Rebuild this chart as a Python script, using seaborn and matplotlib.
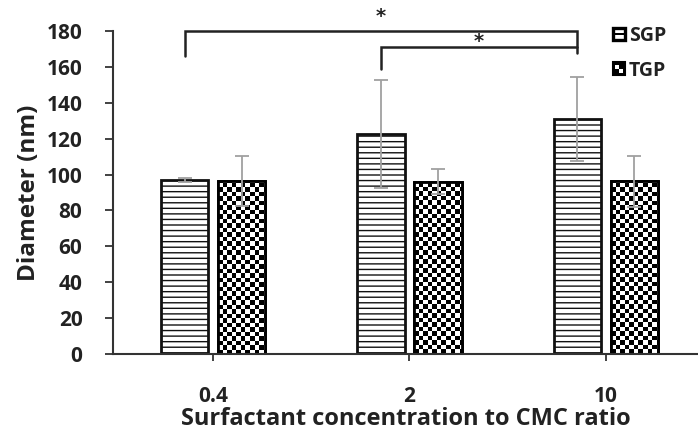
import numpy as np
import pandas as pd
import matplotlib
matplotlib.use("Agg")
import matplotlib.pyplot as plt
import seaborn as sns
from matplotlib.patches import Rectangle
from matplotlib.legend_handler import HandlerBase

# ---------------- data ----------------
categories = ["0.4", "2", "10"]
series = ["SGP", "TGP"]
sgp_mean = [97.0, 122.6, 131.0]
tgp_mean = [96.4, 96.0, 96.2]
sgp_err = [1.3, 30.0, 23.2]
tgp_err = [14.2, 7.0, 14.4]
y_ticks = [0, 20, 40, 60, 80, 100, 120, 140, 160, 180]
x_label = "Surfactant concentration to CMC ratio"
y_label = "Diameter (nm)"

df = pd.DataFrame({
    "ratio": categories * 2,
    "group": ["SGP"] * 3 + ["TGP"] * 3,
    "diameter": sgp_mean + tgp_mean,
})
errs = {"SGP": sgp_err, "TGP": tgp_err}

sns.set_theme(style="white")
plt.rcParams["font.family"] = ["Open Sans", "DejaVu Sans"]
plt.rcParams["font.weight"] = "bold"
plt.rcParams["hatch.linewidth"] = 1.0

fig = plt.figure(figsize=(6.98, 4.34), dpi=100)
ax = fig.add_axes([113 / 698, 1 - 354 / 434, 1 - 113 / 698, (354 - 31) / 434])

sns.barplot(data=df, x="ratio", y="diameter", hue="group", order=categories,
            hue_order=series, errorbar=None, width=0.58, gap=0.17,
            palette=["white", "white"], edgecolor="black", linewidth=2,
            legend=False, ax=ax)

xlim = (-0.51, 2.47)
ylim = (0, 180)

bars = [p for p in ax.patches if isinstance(p, Rectangle)]
n = len(categories)
sgp_bars = bars[:n]
tgp_bars = bars[n:2 * n]

for p in sgp_bars:
    p.set_hatch("---")
    p.set_edgecolor("#111111")

# checkerboard fill for TGP bars
cell_x = 4.5 / 196.0
cell_y = 4.5 / (323 / 180)
for p in tgp_bars:
    x0, w = p.get_x(), p.get_width()
    y0, h = p.get_y(), p.get_height()
    nx = int(np.ceil(w / cell_x))
    ny = int(np.ceil(h / cell_y))
    ii, jj = np.indices((ny, nx))
    board = ((ii + jj) % 2).astype(float)
    im = ax.imshow(board, cmap="gray", vmin=0, vmax=1, interpolation="nearest",
                   extent=(x0, x0 + nx * cell_x, y0, y0 + ny * cell_y),
                   origin="lower", aspect="auto", zorder=p.get_zorder() + 0.1)
    im.set_clip_path(p)
    edge = Rectangle((x0, y0), w, h, facecolor="none", edgecolor="black",
                     linewidth=2, zorder=p.get_zorder() + 0.2)
    ax.add_patch(edge)

# error bars
for s, blist in (("SGP", sgp_bars), ("TGP", tgp_bars)):
    for p, e in zip(blist, errs[s]):
        xc = p.get_x() + p.get_width() / 2
        ax.errorbar(xc, p.get_height(), yerr=e, fmt="none", ecolor="#a0a0a0",
                    elinewidth=1.3, capsize=5, capthick=1.3, zorder=5)

ax.set_aspect("auto")
ax.set_xlim(*xlim)
ax.set_ylim(*ylim)
ax.set_yticks(y_ticks)

# significance brackets
xs0 = sgp_bars[0].get_x() + sgp_bars[0].get_width() / 2
xs1 = sgp_bars[1].get_x() + sgp_bars[1].get_width() / 2
xs2 = sgp_bars[2].get_x() + sgp_bars[2].get_width() / 2
kw = dict(color="#222222", lw=1.8, clip_on=False, zorder=6, solid_joinstyle="miter")
ax.plot([xs0, xs0, xs2, xs2], [166, 180, 180, 168], **kw)
ax.plot([xs1, xs1, xs2], [159, 171, 171], **kw)
star_kw = dict(ha="center", va="center", fontsize=14, fontweight="bold",
               color="#222222", clip_on=False, family=["DejaVu Sans"])
ax.text((xs0 + xs2) / 2, 188, "*", **star_kw)
ax.text((xs1 + xs2) / 2, 174, "*", **star_kw)

# spines / ticks
sns.despine(ax=ax)
for sp in ("left", "bottom"):
    ax.spines[sp].set_linewidth(1.5)
    ax.spines[sp].set_color("#333333")
ax.tick_params(axis="y", direction="out", length=6, width=1.3, color="#333333",
               pad=16, labelsize=15, labelcolor="#222222", left=True)
ax.tick_params(axis="x", direction="out", length=5, width=1.3, color="#333333",
               pad=18, labelsize=15, labelcolor="#222222", bottom=True)
for lab in ax.get_xticklabels() + ax.get_yticklabels():
    lab.set_fontweight("bold")
ax.set_xlabel(x_label, fontsize=17, fontweight="bold", color="#222222", labelpad=0)
ax.set_ylabel(y_label, fontsize=17.5, fontweight="bold", color="#222222", labelpad=4)


class SquareHandler(HandlerBase):
    def __init__(self, kind):
        super().__init__()
        self.kind = kind

    def create_artists(self, legend, orig_handle, xdescent, ydescent, width,
                       height, fontsize, trans):
        s = height
        x0 = -xdescent + (width - s) / 2
        y0 = -ydescent
        arts = []
        if self.kind == "SGP":
            arts.append(Rectangle((x0, y0), s, s, facecolor="white",
                                  edgecolor="black", linewidth=2.4, transform=trans))
            arts.append(Rectangle((x0, y0 + s * 0.42), s, s * 0.16,
                                  facecolor="black", edgecolor="none", transform=trans))
        else:
            arts.append(Rectangle((x0, y0), s, s, facecolor="black",
                                  edgecolor="black", linewidth=1.5, transform=trans))
            arts.append(Rectangle((x0 + s * 0.5, y0 + s * 0.2), s * 0.3, s * 0.3,
                                  facecolor="white", edgecolor="none", transform=trans))
            arts.append(Rectangle((x0 + s * 0.2, y0 + s * 0.5), s * 0.3, s * 0.3,
                                  facecolor="white", edgecolor="none", transform=trans))
        return arts


h1 = Rectangle((0, 0), 1, 1)
h2 = Rectangle((0, 0), 1, 1)
leg = fig.legend([h1, h2], series, loc="upper left",
                 bbox_to_anchor=(613 / 698, 1 - 26 / 434), bbox_transform=fig.transFigure,
                 frameon=False, fontsize=14, handlelength=0.62, handleheight=0.62,
                 handletextpad=0.2, labelspacing=0.75, borderpad=0, borderaxespad=0,
                 handler_map={h1: SquareHandler("SGP"), h2: SquareHandler("TGP")})
for t in leg.get_texts():
    t.set_fontweight("bold")
    t.set_color("#222222")

fig.savefig("out.png", dpi=100)
